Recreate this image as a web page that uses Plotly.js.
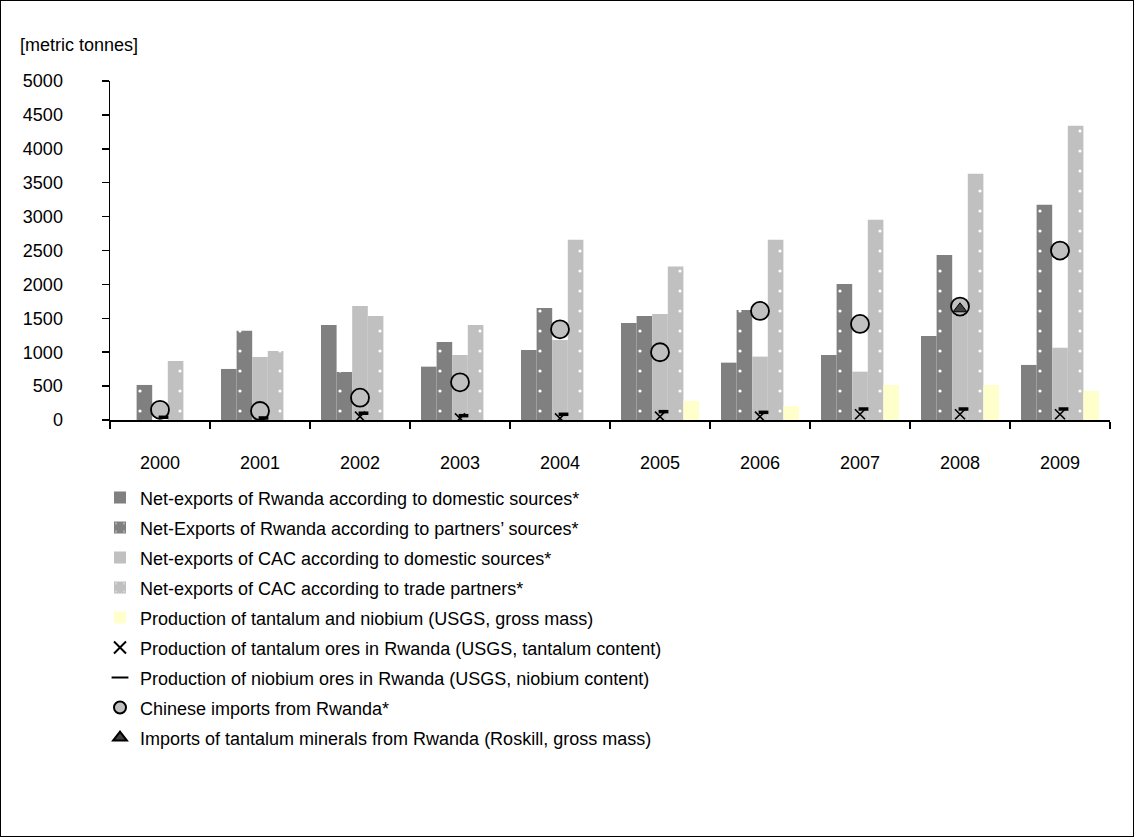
<!DOCTYPE html>
<html><head><meta charset="utf-8">
<script src="https://cdn.plot.ly/plotly-3.0.1.min.js"></script>
<style>
html,body{margin:0;padding:0;background:#fff}
#wrap{position:relative;width:1134px;height:837px}
#chart{width:1134px;height:837px}
#frame{position:absolute;left:0;top:0;width:1134px;height:837px;border:1px solid #000;box-sizing:border-box;pointer-events:none}
</style>
</head><body><div id="wrap"><div id="chart"></div><div id="frame"></div></div>
<script>
const years = ["2000","2001","2002","2003","2004","2005","2006","2007","2008","2009"];
const rwandaDomestic = [0, 753, 1402, 787, 1033, 1432, 846, 959, 1240, 812];
const rwandaPartners = [517, 1318, 708, 1151, 1653, 1535, 1624, 2007, 2435, 3173];
const cacDomestic = [0, 930, 1683, 959, 1181, 1565, 935, 713, 1600, 1067];
const cacPartners = [871, 1018, 1535, 1402, 2657, 2263, 2657, 2952, 3631, 4339];
const prodTaNb = [0, 0, 0, 0, 0, 280, 207, 517, 517, 428];
const prodTantalum = [null, null, 50, 25, 25, 50, 50, 85, 85, 85];
const prodNiobium = [40, 30, 100, 64, 84, 123, 113, 162, 162, 162];
const chineseImports = [150, 133, 329, 556, 1338, 999, 1609, 1417, 1673, 2499];
const roskillImports = [null, null, null, null, null, null, null, null, 1640, null];
const yTicks = [0,500,1000,1500,2000,2500,3000,3500,4000,4500,5000];

const FONT = "Liberation Sans, Arial, sans-serif";
const FS = 18;
const DARK = "#808080", LIGHT = "#c0c0c0", YEL = "#ffffcc";

function bar(name, vals, color, dotted, grp){
  const m = {color: color, line: {width: 0}};
  if (dotted) m.pattern = {shape: ".", fgcolor: "#ffffff", bgcolor: color, size: 20, solidity: 0.02, fillmode: "replace"};
  return {type: "bar", name: name, x: years, y: vals, marker: m, legendgroup: grp};
}
const traces = [
  bar("Net-exports of Rwanda according to domestic sources*", rwandaDomestic, DARK, false, "g1"),
  bar("Net-Exports of Rwanda according to partners’ sources*", rwandaPartners, DARK, true, "g2"),
  bar("Net-exports of CAC according to domestic sources*", cacDomestic, LIGHT, false, "g3"),
  bar("Net-exports of CAC according to trade partners*", cacPartners, LIGHT, true, "g4"),
  bar("Production of tantalum and niobium (USGS, gross mass)", prodTaNb, YEL, false, "g5"),
  {type: "scatter", mode: "markers", name: "Production of tantalum ores in Rwanda (USGS, tantalum content)",
   x: years, y: prodTantalum, legendgroup: "g6",
   marker: {symbol: "x-thin-open", size: 10, color: "#000", line: {width: 1.6, color: "#000"}}},
  {type: "scatter", mode: "markers", name: "Production of niobium ores in Rwanda (USGS, niobium content)",
   x: years, y: prodNiobium, legendgroup: "g7", xaxis: "x3",
   marker: {symbol: "line-ew-open", size: 7, color: "#000", line: {width: 3.5, color: "#000"}}},
  {type: "scatter", mode: "markers", name: "Chinese imports from Rwanda*",
   x: years, y: chineseImports, legendgroup: "g8",
   marker: {symbol: "circle", size: 18, color: LIGHT, line: {width: 1.8, color: "#000"}}},
  {type: "scatter", mode: "markers", name: "Imports of tantalum minerals from Rwanda (Roskill, gross mass)",
   x: years, y: roskillImports, legendgroup: "g9",
   marker: {symbol: "triangle-up", size: 12, color: "#404040", line: {width: 1, color: "#000"}}}
];

const layout = {
  width: 1134, height: 837,
  margin: {l: 110, r: 24, t: 81, b: 417},
  paper_bgcolor: "#fff", plot_bgcolor: "#fff",
  font: {family: FONT, size: FS, color: "#000"},
  barmode: "group", bargap: 0.22, bargroupgap: 0,
  showlegend: true,
  legend: {x: -0.01, xanchor: "left", y: -0.175, yanchor: "top", traceorder: "grouped",
           tracegroupgap: 3.6, itemsizing: "constant",
           font: {family: FONT, size: FS, color: "#000"}, bgcolor: "rgba(0,0,0,0)"},
  xaxis: {type: "category", range: [-0.5, years.length - 0.5], tickson: "boundaries", ticks: "outside",
          ticklen: 7, tickwidth: 1.5, tickcolor: "#000", showline: true, linecolor: "#000", linewidth: 1.5,
          showgrid: false, zeroline: false, ticklabelstandoff: 26, tickfont: {family: FONT, size: FS, color: "#000"}},
  yaxis: {range: [0, 5000], tickvals: yTicks, ticks: "outside", ticklen: 7, tickwidth: 1.5,
          tickcolor: "#000", showline: true, linecolor: "#000", linewidth: 1.5, showgrid: false,
          zeroline: false, ticklabelstandoff: 35, tickfont: {family: FONT, size: FS, color: "#000"}},
  xaxis2: {overlaying: "x", anchor: "y", type: "linear", range: [-0.5, years.length - 0.5],
           tickvals: years.map((c, i) => i - 0.5).concat([years.length - 0.5]),
           ticks: "inside", ticklen: 7, tickwidth: 1.5, tickcolor: "#000",
           showticklabels: false, showline: false, showgrid: false, zeroline: false, side: "bottom"},
  xaxis3: {overlaying: "x", anchor: "y", type: "category", range: [-0.535, years.length - 0.535],
           visible: false, showgrid: false, zeroline: false},
  yaxis2: {overlaying: "y", anchor: "x", range: [0, 5000], tickvals: yTicks, ticks: "inside", ticklen: 7,
           tickwidth: 1.5, tickcolor: "#000", showticklabels: false, showline: false, showgrid: false,
           zeroline: false, side: "left"},
  annotations: [{text: "[metric tonnes]", xref: "paper", yref: "paper", x: -0.092, y: 1.106,
                 xanchor: "left", yanchor: "middle", showarrow: false,
                 font: {family: FONT, size: FS, color: "#000"}}]
};
Plotly.newPlot("chart", traces, layout, {displayModeBar: false, staticPlot: true});
</script>
</body></html>
